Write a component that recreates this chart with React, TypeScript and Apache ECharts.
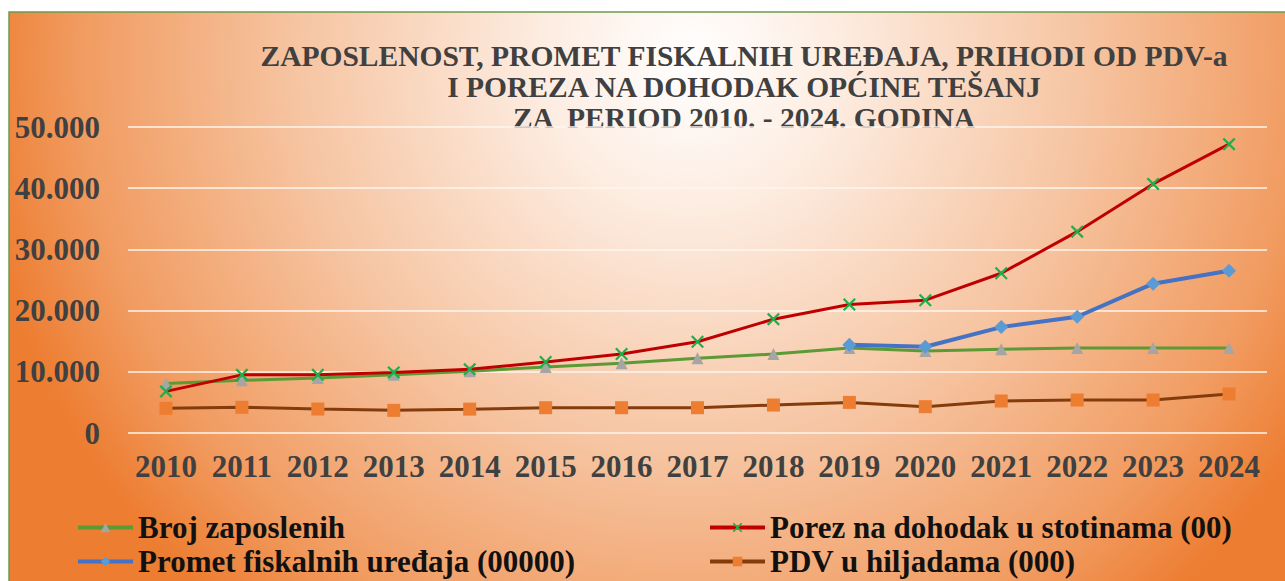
import React, { useEffect, useRef } from "react";
import * as echarts from "echarts";

const years = ["2010","2011","2012","2013","2014","2015","2016","2017","2018","2019","2020","2021","2022","2023","2024"];
const brojZaposlenih = [8100, 8600, 9000, 9500, 10100, 10800, 11400, 12200, 12900, 13900, 13400, 13700, 13900, 13900, 13900];
const porezNaDohodak = [6800, 9500, 9500, 9900, 10400, 11600, 12900, 14900, 18600, 21000, 21700, 26100, 32900, 40700, 47200];
const prometFiskalnih = [null, null, null, null, null, null, null, null, null, 14400, 14100, 17300, 19000, 24400, 26500];
const pdv = [4030, 4200, 3920, 3700, 3900, 4130, 4130, 4130, 4570, 5000, 4300, 5230, 5390, 5390, 6370];
const yTicks = { min: 0, max: 50000, interval: 10000 };
const titleLines = [
  "ZAPOSLENOST, PROMET FISKALNIH UREĐAJA, PRIHODI OD PDV-a",
  "I POREZA NA DOHODAK OPĆINE TEŠANJ",
  "ZA  PERIOD 2010. - 2024. GODINA",
];
const names = [
  "Broj zaposlenih",
  "Porez na dohodak u stotinama (00)",
  "Promet fiskalnih uređaja (00000)",
  "PDV u hiljadama (000)",
];

const SERIF = "serif";
const CROSS = "path://M0,1.2L1.2,0L5,3.8L8.8,0L10,1.2L6.2,5L10,8.8L8.8,10L5,6.2L1.2,10L0,8.8L3.8,5Z";

export default function App() {
  const ref = useRef<HTMLDivElement>(null);
  useEffect(() => {
    if (!ref.current) return;
    const chart = echarts.init(ref.current, null, { renderer: "svg" });
    const legendBase = {
      orient: "horizontal",
      padding: 0,
      itemWidth: 55,
      itemHeight: 12,
      itemGap: 0,
      selectedMode: false,
      lineStyle: { width: 4 },
      textStyle: { fontFamily: SERIF, fontWeight: "bold", fontSize: 31, color: "#111111", lineHeight: 31 },
    };
    chart.setOption({
      animation: false,
      textStyle: { fontFamily: SERIF },
      graphic: [
        {
          type: "rect",
          z: -10,
          silent: true,
          shape: { x: 9, y: 12, width: 1290, height: 580 },
          style: {
            fill: new echarts.graphic.RadialGradient(690, 60, 720, [
              { offset: 0, color: "#FFFFFF" },
              { offset: 0.2, color: "#FDEDE2" },
              { offset: 0.55, color: "#F6C4A1" },
              { offset: 0.85, color: "#F19B60" },
              { offset: 1, color: "#ED7D31" },
            ], true),
            stroke: "#6E9A4E",
            lineWidth: 1.5,
          },
        },
        ...titleLines.map((t, i) => ({
          type: "text",
          silent: true,
          x: 744,
          y: 56 + i * 31,
          style: {
            text: t,
            fill: "#404040",
            font: "bold 29.5px serif",
            textAlign: "center",
            textVerticalAlign: "middle",
          },
        })),
      ],
      grid: { left: 128, right: 18, top: 127, bottom: 148, containLabel: false },
      legend: [
        { ...legendBase, data: [names[0]], left: 76, top: 512 },
        { ...legendBase, data: [names[1]], left: 708, top: 512 },
        { ...legendBase, data: [names[2]], left: 76, top: 546 },
        { ...legendBase, data: [names[3]], left: 708, top: 546 },
      ],
      xAxis: {
        type: "category",
        data: years,
        boundaryGap: true,
        axisLine: { show: false },
        axisTick: { show: false },
        axisLabel: { margin: 18, fontFamily: SERIF, fontWeight: "bold", fontSize: 31, color: "#404040", interval: 0 },
      },
      yAxis: {
        type: "value",
        min: yTicks.min,
        max: yTicks.max,
        interval: yTicks.interval,
        axisLine: { show: false },
        axisTick: { show: false },
        splitLine: { lineStyle: { color: "#FFF6EE", width: 1.5 } },
        axisLabel: {
          margin: 28,
          fontFamily: SERIF,
          fontWeight: "bold",
          fontSize: 31,
          color: "#404040",
          formatter: (v: number) => (v === 0 ? "0" : v.toLocaleString("de-DE")),
        },
      },
      series: [
        {
          name: names[0],
          type: "line",
          data: brojZaposlenih,
          symbol: "triangle",
          symbolSize: 12,
          lineStyle: { color: "#5B9A34", width: 3 },
          itemStyle: { color: "#A5A5A5" },
          z: 2,
        },
        {
          name: names[1],
          type: "line",
          data: porezNaDohodak,
          symbol: CROSS,
          symbolSize: 13,
          lineStyle: { color: "#C00000", width: 3 },
          itemStyle: { color: "#1FAE4B" },
          z: 3,
        },
        {
          name: names[2],
          type: "line",
          data: prometFiskalnih,
          symbol: "diamond",
          symbolSize: 14,
          connectNulls: false,
          lineStyle: { color: "#4472C4", width: 4 },
          itemStyle: { color: "#5B9BD5" },
          z: 4,
        },
        {
          name: names[3],
          type: "line",
          data: pdv,
          symbol: "rect",
          symbolSize: 13,
          lineStyle: { color: "#843C0C", width: 3 },
          itemStyle: { color: "#ED7D31" },
          z: 5,
        },
      ],
    });
    return () => chart.dispose();
  }, []);
  return (
    <div
      ref={ref}
      style={{ position: "absolute", left: 0, top: 0, width: 1285, height: 581 }}
    />
  );
}
